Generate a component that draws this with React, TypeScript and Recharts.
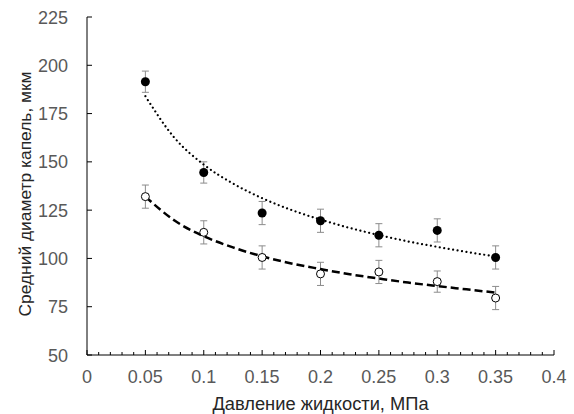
import React from "react";
import { ComposedChart, Scatter, Line, XAxis, YAxis, ErrorBar } from "recharts";

// давление жидкости, МПа
const pressure = [0.05, 0.1, 0.15, 0.2, 0.25, 0.3, 0.35];
// средний диаметр, мкм (закрашенные маркеры)
const filledDiam = [191.5, 144.5, 123.5, 119.5, 112, 114.5, 100.5];
const filledErr = [5.5, 5.5, 6, 6, 6, 6, 6];
// светлые маркеры
const openDiam = [132, 113.5, 100.5, 92, 93, 88, 79.5];
const openErr = [6, 6, 6, 6, 6, 5.5, 6];

// линии тренда
const trendX = [0.05, 0.075, 0.1, 0.125, 0.15, 0.175, 0.2, 0.225, 0.25, 0.275, 0.3, 0.325, 0.35];
const filledTrend = [184, 162.4, 148.6, 138.8, 131.2, 125.1, 120.1, 115.8, 112.1, 108.8, 106, 103.4, 101];
const openTrend = [132, 119.6, 111.5, 105.7, 101.1, 97.4, 94.5, 91.8, 89.6, 87.5, 85.7, 84, 82.3];

const yTicks = [50, 75, 100, 125, 150, 175, 200, 225];

// minor ticks every 0.01, labels every 0.05
const xTicks: number[] = [];
for (let i = 0; i <= 40; i++) xTicks.push(i / 100);

const FONT = "'Liberation Sans', Arial, sans-serif";
const TICK_COLOR = "#595959";

const filledData = pressure.map((x, i) => ({ x, y: filledDiam[i], err: filledErr[i] }));
const openData = pressure.map((x, i) => ({ x, y: openDiam[i], err: openErr[i] }));
const filledTrendData = trendX.map((x, i) => ({ x, y: filledTrend[i] }));
const openTrendData = trendX.map((x, i) => ({ x, y: openTrend[i] }));

const isMajor = (v: number) => Math.abs(v * 20 - Math.round(v * 20)) < 1e-6;

const XTick = (props: any) => {
  const { x, y, payload } = props;
  const v = payload.value;
  const major = isMajor(v);
  return (
    <g>
      <line x1={x} x2={x} y1={y} y2={y - (major ? 5 : 3)} stroke="#000" strokeWidth={1} />
      {major && (
        <text x={x} y={y + 28} textAnchor="middle" fill={TICK_COLOR} fontSize={18} fontFamily={FONT}>
          {v === 0 ? "0" : String(v)}
        </text>
      )}
    </g>
  );
};

const YTick = (props: any) => {
  const { x, y, payload } = props;
  return (
    <g>
      <line x1={x} x2={x + 5} y1={y} y2={y} stroke="#000" strokeWidth={1} />
      <text x={x - 19} y={y + 6.5} textAnchor="end" fill={TICK_COLOR} fontSize={18} fontFamily={FONT}>
        {payload.value}
      </text>
    </g>
  );
};

const FilledDot = (props: any) => <circle cx={props.cx} cy={props.cy} r={4.5} fill="#000" />;
const OpenDot = (props: any) => (
  <circle cx={props.cx} cy={props.cy} r={4} fill="#fff" stroke="#000" strokeWidth={1} />
);

export default function App() {
  return (
    <div style={{ position: "absolute", left: 0, top: 0, background: "#fff" }}>
      <ComposedChart width={574} height={414} margin={{ top: 17, right: 20, bottom: 0, left: 0 }}>
        <XAxis
          type="number"
          dataKey="x"
          domain={[0, 0.4]}
          ticks={xTicks}
          interval={0}
          tick={<XTick />}
          tickLine={false}
          tickSize={0}
          tickMargin={0}
          height={59}
          stroke="#000"
          label={{
            content: () => (
              <text x={320.5} y={410} textAnchor="middle" fill="#262626" fontSize={18.3} fontFamily={FONT}>
                Давление жидкости, МПа
              </text>
            ),
          }}
        />
        <YAxis
          type="number"
          domain={[50, 225]}
          ticks={yTicks}
          interval={0}
          tick={<YTick />}
          tickLine={false}
          tickSize={0}
          tickMargin={0}
          width={87}
          stroke="#000"
          label={{
            content: () => (
              <text
                x={31}
                y={194}
                transform="rotate(-90 31 194)"
                textAnchor="middle"
                fill="#262626"
                fontSize={17.4}
                fontFamily={FONT}
              >
                Средний диаметр капель, мкм
              </text>
            ),
          }}
        />
        <Scatter data={filledData} dataKey="y" shape={<FilledDot />} isAnimationActive={false}>
          <ErrorBar dataKey="err" direction="y" width={3.5} stroke="#8c8c8c" strokeWidth={1} />
        </Scatter>
        <Scatter data={openData} dataKey="y" shape={<OpenDot />} isAnimationActive={false}>
          <ErrorBar dataKey="err" direction="y" width={3.5} stroke="#8c8c8c" strokeWidth={1} />
        </Scatter>
        <Line
          data={filledTrendData}
          dataKey="y"
          type="monotone"
          stroke="#000"
          strokeWidth={2.2}
          strokeDasharray="0.01 4.5"
          strokeLinecap="round"
          dot={false}
          activeDot={false}
          isAnimationActive={false}
        />
        <Line
          data={openTrendData}
          dataKey="y"
          type="monotone"
          stroke="#000"
          strokeWidth={2.5}
          strokeDasharray="8 4"
          dot={false}
          activeDot={false}
          isAnimationActive={false}
        />
      </ComposedChart>
    </div>
  );
}
